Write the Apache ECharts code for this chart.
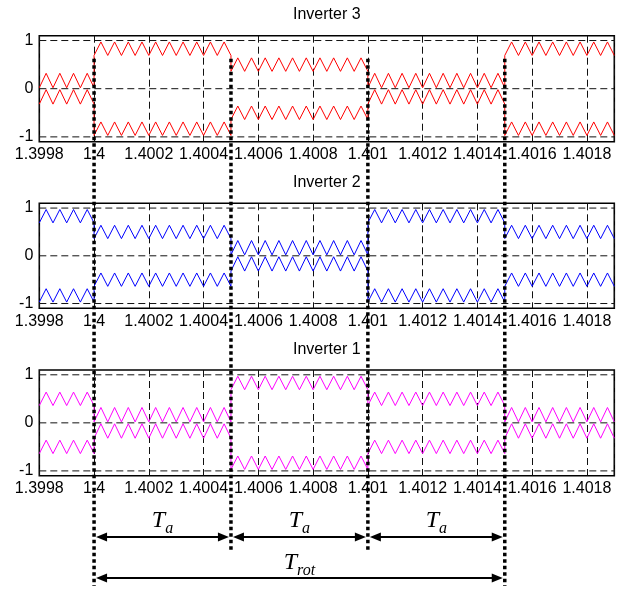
<!DOCTYPE html>
<html><head><meta charset="utf-8">
<script src="https://cdn.jsdelivr.net/npm/echarts@6/dist/echarts.min.js"></script>
<style>html,body{margin:0;padding:0;background:#fff}#c{width:633px;height:590px}</style>
</head><body><div id="c"></div>
<script>
// ---- data ----
const time = [
 1.3998,1.399825,1.39985,1.399875,1.3999,1.399925,1.39995,1.399975,1.4,
 1.4,1.400025,1.40005,1.400075,1.4001,1.400125,1.40015,1.400175,1.4002,1.400225,1.40025,1.400275,1.4003,1.400325,1.40035,1.400375,1.4004,1.400425,1.40045,1.400475,1.4005,
 1.4005,1.400525,1.40055,1.400575,1.4006,1.400625,1.40065,1.400675,1.4007,1.400725,1.40075,1.400775,1.4008,1.400825,1.40085,1.400875,1.4009,1.400925,1.40095,1.400975,1.401,
 1.401,1.401025,1.40105,1.401075,1.4011,1.401125,1.40115,1.401175,1.4012,1.401225,1.40125,1.401275,1.4013,1.401325,1.40135,1.401375,1.4014,1.401425,1.40145,1.401475,1.4015,
 1.4015,1.401525,1.40155,1.401575,1.4016,1.401625,1.40165,1.401675,1.4017,1.401725,1.40175,1.401775,1.4018,1.401825,1.40185,1.401875,1.4019
];
const inv3Upper = [
 0.02,0.32,0.02,0.32,0.02,0.32,0.02,0.32,0.02,
 0.69,0.97,0.69,0.97,0.69,0.97,0.69,0.97,0.69,0.97, 0.69,0.97,0.69,0.97,0.69,0.97,0.69,0.97,0.69,0.97, 0.69,
 0.36,0.64,0.36,0.64,0.36,0.64,0.36,0.64,0.36,0.64, 0.36,0.64,0.36,0.64,0.36,0.64,0.36,0.64,0.36,0.64, 0.36,
 0.02,0.32,0.02,0.32,0.02,0.32,0.02,0.32,0.02,0.32, 0.02,0.32,0.02,0.32,0.02,0.32,0.02,0.32,0.02,0.32, 0.02,
 0.69,0.97,0.69,0.97,0.69,0.97,0.69,0.97, 0.69,0.97,0.69,0.97,0.69,0.97,0.69,0.97, 0.69
];
const inv3Lower = [
 -0.32,-0.02,-0.32,-0.02,-0.32,-0.02,-0.32,-0.02,-0.32,
 -0.97,-0.69,-0.97,-0.69,-0.97,-0.69,-0.97,-0.69,-0.97,-0.69, -0.97,-0.69,-0.97,-0.69,-0.97,-0.69,-0.97,-0.69,-0.97,-0.69, -0.97,
 -0.64,-0.36,-0.64,-0.36,-0.64,-0.36,-0.64,-0.36,-0.64,-0.36, -0.64,-0.36,-0.64,-0.36,-0.64,-0.36,-0.64,-0.36,-0.64,-0.36, -0.64,
 -0.32,-0.02,-0.32,-0.02,-0.32,-0.02,-0.32,-0.02,-0.32,-0.02, -0.32,-0.02,-0.32,-0.02,-0.32,-0.02,-0.32,-0.02,-0.32,-0.02, -0.32,
 -0.97,-0.69,-0.97,-0.69,-0.97,-0.69,-0.97,-0.69, -0.97,-0.69,-0.97,-0.69,-0.97,-0.69,-0.97,-0.69, -0.97
];
const inv2Upper = [
 0.69,0.97,0.69,0.97,0.69,0.97,0.69,0.97,0.69,
 0.36,0.64,0.36,0.64,0.36,0.64,0.36,0.64,0.36,0.64, 0.36,0.64,0.36,0.64,0.36,0.64,0.36,0.64,0.36,0.64, 0.36,
 0.02,0.32,0.02,0.32,0.02,0.32,0.02,0.32,0.02,0.32, 0.02,0.32,0.02,0.32,0.02,0.32,0.02,0.32,0.02,0.32, 0.02,
 0.69,0.97,0.69,0.97,0.69,0.97,0.69,0.97,0.69,0.97, 0.69,0.97,0.69,0.97,0.69,0.97,0.69,0.97,0.69,0.97, 0.69,
 0.36,0.64,0.36,0.64,0.36,0.64,0.36,0.64, 0.36,0.64,0.36,0.64,0.36,0.64,0.36,0.64, 0.36
];
const inv2Lower = [
 -0.97,-0.69,-0.97,-0.69,-0.97,-0.69,-0.97,-0.69,-0.97,
 -0.64,-0.36,-0.64,-0.36,-0.64,-0.36,-0.64,-0.36,-0.64,-0.36, -0.64,-0.36,-0.64,-0.36,-0.64,-0.36,-0.64,-0.36,-0.64,-0.36, -0.64,
 -0.32,-0.02,-0.32,-0.02,-0.32,-0.02,-0.32,-0.02,-0.32,-0.02, -0.32,-0.02,-0.32,-0.02,-0.32,-0.02,-0.32,-0.02,-0.32,-0.02, -0.32,
 -0.97,-0.69,-0.97,-0.69,-0.97,-0.69,-0.97,-0.69,-0.97,-0.69, -0.97,-0.69,-0.97,-0.69,-0.97,-0.69,-0.97,-0.69,-0.97,-0.69, -0.97,
 -0.64,-0.36,-0.64,-0.36,-0.64,-0.36,-0.64,-0.36, -0.64,-0.36,-0.64,-0.36,-0.64,-0.36,-0.64,-0.36, -0.64
];
const inv1Upper = [
 0.36,0.64,0.36,0.64,0.36,0.64,0.36,0.64,0.36,
 0.02,0.32,0.02,0.32,0.02,0.32,0.02,0.32,0.02,0.32, 0.02,0.32,0.02,0.32,0.02,0.32,0.02,0.32,0.02,0.32, 0.02,
 0.69,0.97,0.69,0.97,0.69,0.97,0.69,0.97,0.69,0.97, 0.69,0.97,0.69,0.97,0.69,0.97,0.69,0.97,0.69,0.97, 0.69,
 0.36,0.64,0.36,0.64,0.36,0.64,0.36,0.64,0.36,0.64, 0.36,0.64,0.36,0.64,0.36,0.64,0.36,0.64,0.36,0.64, 0.36,
 0.02,0.32,0.02,0.32,0.02,0.32,0.02,0.32, 0.02,0.32,0.02,0.32,0.02,0.32,0.02,0.32, 0.02
];
const inv1Lower = [
 -0.64,-0.36,-0.64,-0.36,-0.64,-0.36,-0.64,-0.36,-0.64,
 -0.32,-0.02,-0.32,-0.02,-0.32,-0.02,-0.32,-0.02,-0.32,-0.02, -0.32,-0.02,-0.32,-0.02,-0.32,-0.02,-0.32,-0.02,-0.32,-0.02, -0.32,
 -0.97,-0.69,-0.97,-0.69,-0.97,-0.69,-0.97,-0.69,-0.97,-0.69, -0.97,-0.69,-0.97,-0.69,-0.97,-0.69,-0.97,-0.69,-0.97,-0.69, -0.97,
 -0.64,-0.36,-0.64,-0.36,-0.64,-0.36,-0.64,-0.36,-0.64,-0.36, -0.64,-0.36,-0.64,-0.36,-0.64,-0.36,-0.64,-0.36,-0.64,-0.36, -0.64,
 -0.32,-0.02,-0.32,-0.02,-0.32,-0.02,-0.32,-0.02, -0.32,-0.02,-0.32,-0.02,-0.32,-0.02,-0.32,-0.02, -0.32
];
const panelTitles = ['Inverter 3', 'Inverter 2', 'Inverter 1'];
const panelColors = ['#ff0000', '#0000ff', '#ff00ff'];
const xMin = 1.3998, xMax = 1.4019, xStep = 0.0002;
const yMin = -1.1, yMax = 1.1;
const yGridValues = [-1, 0, 1];
const transitions = [1.4, 1.4005, 1.401, 1.4015];
const periodLabels = [['T', 'a'], ['T', 'a'], ['T', 'a']];
const rotLabel = ['T', 'rot'];

// ---- layout ----
const gridLayout = [
  { left: 39.3, width: 575, top: 35.7, height: 106 },
  { left: 39.3, width: 575, top: 203.3, height: 105 },
  { left: 39.3, width: 575, top: 370, height: 105.7 }
];
const titleTops = [7, 175, 342];
const annot = { dotTopValue: 0.62, longBottom: 586, shortBottom: 552,
  taArrowY: 537, rotArrowY: 578, taLabelTop: 509, rotLabelTop: 551 };
const gridDash = { color: '#111', width: 1, type: [7, 4] };

const sigSets = [[inv3Upper, inv3Lower], [inv2Upper, inv2Lower], [inv1Upper, inv1Lower]];
const font = 'Liberation Sans';

const chart = echarts.init(document.getElementById('c'), null, { renderer: 'canvas', width: 633, height: 590 });

const xLabelFmt = v => {
  const k = (v - xMin) / xStep;
  return Math.abs(k - Math.round(k)) < 1e-6 ? String(parseFloat(v.toFixed(4))) : '';
};
const yLabelFmt = v => (Math.abs(v - Math.round(v)) < 1e-6 ? String(Math.round(v)) : '');

const series = [];
sigSets.forEach((pair, gi) => {
  yGridValues.forEach(v => {
    series.push({ type: 'line', xAxisIndex: gi, yAxisIndex: gi, silent: true, symbol: 'none', z: 1,
      data: [[xMin, v], [xMax, v]], lineStyle: gridDash });
  });
  pair.forEach(arr => {
    series.push({ type: 'line', xAxisIndex: gi, yAxisIndex: gi, symbol: 'none', showSymbol: false, z: 3,
      data: time.map((t, i) => [t, arr[i]]), lineStyle: { color: panelColors[gi], width: 1 } });
  });
});

chart.setOption({
  animation: false,
  backgroundColor: '#fff',
  title: panelTitles.map((t, i) => ({ text: t, left: gridLayout[i].left + gridLayout[i].width / 2, top: titleTops[i],
    textAlign: 'center', padding: 0,
    textStyle: { fontSize: 16, fontWeight: 'normal', fontFamily: font, color: '#000' } })),
  grid: gridLayout.map(g => Object.assign({ show: true, borderColor: '#000', borderWidth: 1.6, backgroundColor: 'transparent', containLabel: false }, g)),
  xAxis: gridLayout.map((g, i) => ({ type: 'value', gridIndex: i, min: xMin, max: xMax, interval: xStep,
    axisLine: { show: false }, axisTick: { show: false },
    splitLine: { show: true, lineStyle: gridDash },
    axisLabel: { formatter: xLabelFmt, color: '#000', fontSize: 16, fontFamily: font, margin: 5, hideOverlap: false } })),
  yAxis: gridLayout.map((g, i) => ({ type: 'value', gridIndex: i, min: yMin, max: yMax, interval: 0.1,
    axisLine: { show: false }, axisTick: { show: false }, splitLine: { show: false },
    axisLabel: { formatter: yLabelFmt, color: '#000', fontSize: 16, fontFamily: font, margin: 6 } })),
  series: series
});

// ---- annotations (positions from the axis scales) ----
const px = v => chart.convertToPixel({ xAxisIndex: 0 }, v);
const dotTop = chart.convertToPixel({ yAxisIndex: 0 }, annot.dotTopValue);
const els = [];
transitions.forEach((t, i) => {
  const x = px(t);
  els.push({ type: 'line', z: 100, shape: { x1: x, y1: dotTop, x2: x, y2: (i === 0 || i === transitions.length - 1) ? annot.longBottom : annot.shortBottom },
    style: { stroke: '#000', lineWidth: 3.5, lineDash: [3.5, 3] } });
});
function arrow(xa, xb, y) {
  const hl = 11, hw = 4.5;
  els.push({ type: 'line', z: 100, shape: { x1: xa + hl - 1, y1: y, x2: xb - hl + 1, y2: y }, style: { stroke: '#000', lineWidth: 2.2 } });
  els.push({ type: 'polygon', z: 100, shape: { points: [[xa, y], [xa + hl, y - hw], [xa + hl, y + hw]] }, style: { fill: '#000' } });
  els.push({ type: 'polygon', z: 100, shape: { points: [[xb, y], [xb - hl, y - hw], [xb - hl, y + hw]] }, style: { fill: '#000' } });
}
function label(x, y, main, sub, bigSize, subSize, subDrop) {
  els.push({ type: 'text', z: 100, x: x, y: y,
    style: { text: '{t|' + main + '}{s|' + sub + '}', align: 'center', verticalAlign: 'top', fill: '#000',
      rich: {
        t: { font: 'italic ' + bigSize + 'px "Liberation Serif"', lineHeight: bigSize, verticalAlign: 'top', fill: '#000' },
        s: { font: 'italic ' + subSize + 'px "Liberation Serif"', lineHeight: subSize, verticalAlign: 'top', padding: [subDrop, 0, 0, 0], fill: '#000' }
      } } });
}
for (let i = 0; i < 3; i++) {
  const xa = px(transitions[i]) + 2, xb = px(transitions[i + 1]) - 2;
  arrow(xa, xb, annot.taArrowY);
  label((xa + xb) / 2, annot.taLabelTop, periodLabels[i][0], periodLabels[i][1], 24, 16, 12);
}
{
  const xa = px(transitions[0]) + 2, xb = px(transitions[3]) - 2;
  arrow(xa, xb, annot.rotArrowY);
  label((xa + xb) / 2, annot.rotLabelTop, rotLabel[0], rotLabel[1], 24, 16, 12);
}
chart.setOption({ graphic: { elements: els } });
</script>
</body></html>
